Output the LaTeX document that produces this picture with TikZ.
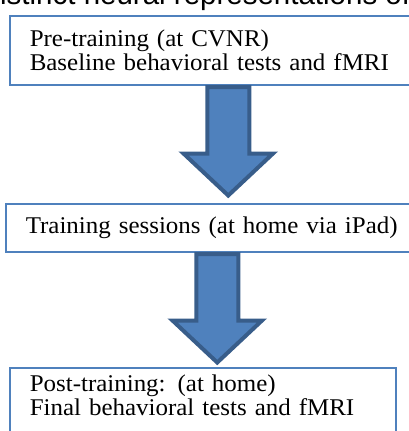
\documentclass[tikz,border=0pt]{standalone}
\usepackage{fontspec}
\setmainfont{Liberation Serif}[FakeStretch=1.04]
\setsansfont{Liberation Sans}
\usetikzlibrary{positioning, calc}
\definecolor{stageblue}{HTML}{4F81BD}
\definecolor{stageedge}{HTML}{385D8A}

\tikzset{
    downarrow/.pic={
        \draw[stageedge, fill=stageblue, line width=4pt, line join=miter]
            (-21,0) -- (-21,66.5) -- (-44.75,66.5) -- (0,108.5) -- (44.75,66.5) -- (21,66.5) -- (21,0) -- cycle;
    }
}

\begin{document}
\begin{tikzpicture}[x=1pt, y=-1pt,
    stage/.style={draw=stageblue, line width=1.5pt, fill=white, anchor=north west, align=left,
        inner xsep=20pt, font=\fontsize{24}{24}\selectfont}
]
\useasboundingbox (0,0) rectangle (409,431);
\clip (0,0) rectangle (409,431);

% heading line, cut off by the page edge
\node[anchor=base west, inner sep=0pt, font=\fontsize{29.5}{30}\sffamily] (heading) at (0,5) {istinct neural representations of};

\node[stage, text width=371pt, minimum height=69pt] (pre) at (9,15) {Pre-training (at CVNR)\\Baseline behavioral tests and fMRI};
\node[stage, text width=384pt, minimum height=48pt] (train) at (5,203) {Training sessions (at home via iPad)};
\node[stage, text width=346pt, inner ysep=7pt, text depth=40pt] (post) at (9,367) {Post-training: (at home)\\Final behavioral tests and fMRI};

\pic at ($(pre.south)+(13,1.5)$) {downarrow};
\pic at ($(train.south)+(-0.5,1.5)$) {downarrow};
\end{tikzpicture}
\end{document}
